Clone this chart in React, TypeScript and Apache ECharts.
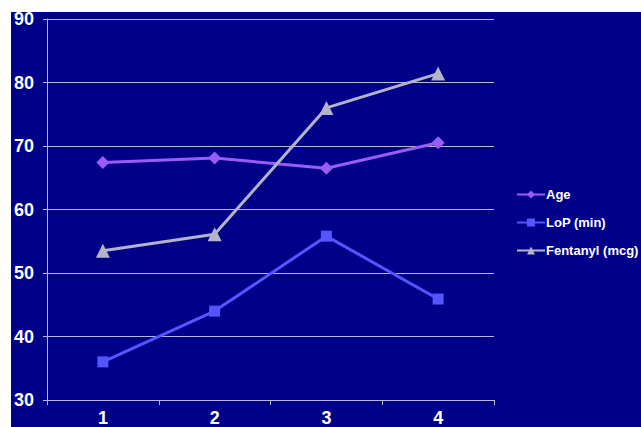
import React, { useEffect, useRef } from "react";
import * as echarts from "echarts";

const categories = ["1", "2", "3", "4"];
const ageValues = [67.4, 68.1, 66.5, 70.5];
const lopValues = [36.0, 44.0, 55.8, 45.9];
const fentanylValues = [53.5, 56.1, 76.0, 81.4];
const seriesNames = ["Age", "LoP (min)", "Fentanyl (mcg)"];

export default function App() {
  const ref = useRef<HTMLDivElement>(null);
  useEffect(() => {
    if (!ref.current) return;
    const chart = echarts.init(ref.current, null, { renderer: "svg" });
    const font = "'Liberation Sans', Arial, sans-serif";
    chart.setOption({
      animation: false,
      backgroundColor: "#ffffff",
      graphic: [
        {
          type: "rect",
          shape: { x: 11, y: 12, width: 630, height: 415 },
          style: { fill: "#000088" },
          z: -10,
          silent: true,
        },
      ],
      grid: { left: 47, top: 19, right: 147, bottom: 27, containLabel: false },
      xAxis: {
        type: "category",
        data: categories,
        boundaryGap: true,
        axisLine: { lineStyle: { color: "#B8B8E0", width: 1 } },
        axisTick: { show: true, length: 5, lineStyle: { color: "#B8B8E0" } },
        axisLabel: { color: "#ffffff", fontFamily: font, fontWeight: "bold", fontSize: 18, margin: 9 },
        splitLine: { show: false },
      },
      yAxis: {
        type: "value",
        min: 30,
        max: 90,
        interval: 10,
        axisLine: { show: true, lineStyle: { color: "#B8B8E0", width: 1 } },
        axisTick: { show: true, length: 4, lineStyle: { color: "#B8B8E0" } },
        axisLabel: { color: "#ffffff", fontFamily: font, fontWeight: "bold", fontSize: 18, margin: 13 },
        splitLine: { show: true, lineStyle: { color: "#B8B8E0", width: 1 } },
      },
      legend: {
        orient: "vertical",
        left: 511,
        top: 183,
        itemWidth: 28,
        itemHeight: 10,
        itemGap: 15,
        textStyle: { color: "#ffffff", fontFamily: font, fontWeight: "bold", fontSize: 13, padding: [0, 0, 0, -4] },
        data: seriesNames,
      },
      series: [
        {
          name: seriesNames[0],
          type: "line",
          data: ageValues,
          symbol: "diamond",
          symbolSize: 13,
          itemStyle: { color: "#9B5CF6" },
          lineStyle: { color: "#9B5CF6", width: 3 },
        },
        {
          name: seriesNames[1],
          type: "line",
          data: lopValues,
          symbol: "rect",
          symbolSize: 11,
          itemStyle: { color: "#5555FF" },
          lineStyle: { color: "#5555FF", width: 3 },
        },
        {
          name: seriesNames[2],
          type: "line",
          data: fentanylValues,
          symbol: "triangle",
          symbolSize: 14,
          itemStyle: { color: "#B4B4C8" },
          lineStyle: { color: "#B4B4C8", width: 3 },
        },
      ],
    });
    return () => chart.dispose();
  }, []);
  return (
    <div
      ref={ref}
      style={{ position: "absolute", left: 0, top: 0, width: 641, height: 427 }}
    />
  );
}
